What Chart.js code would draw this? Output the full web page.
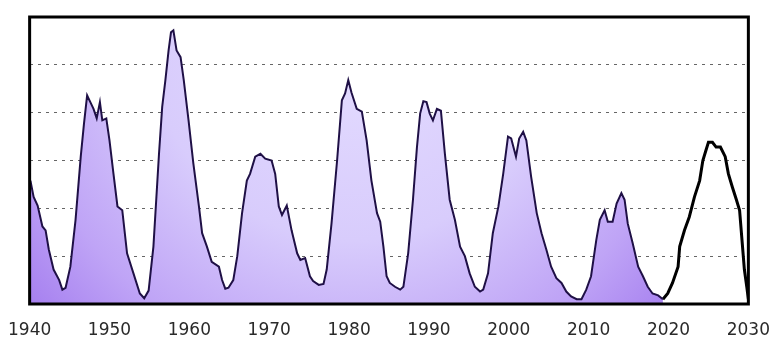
<!DOCTYPE html>
<html lang="en">
<head>
  <meta charset="UTF-8">
  <title>Sunspot Cycles 1940-2030</title>
  <script src="https://cdn.jsdelivr.net/npm/chart.js"></script>
  <style>
    html, body {
      margin: 0;
      padding: 0;
      background: #fff;
    }
    #wrap {
      width: 778px;
      height: 343px;
    }
  </style>
</head>
<body>
  <div id="wrap"><canvas id="sunChart"></canvas></div>

  <script>
    // observed smoothed sunspot number
    const observedYears = [
      1940.1, 1940.5, 1941.0, 1941.6, 1942.0, 1942.4, 1943.0, 1943.7, 1944.1, 1944.5,
      1945.1, 1945.75, 1946.4, 1946.8, 1947.2, 1947.6, 1948.0, 1948.4, 1948.8, 1949.1,
      1949.6, 1950.0, 1950.5, 1951.0, 1951.6, 1952.2, 1953.0, 1953.8, 1954.35, 1954.9,
      1955.5, 1956.2, 1956.6, 1957.0, 1957.4, 1957.7, 1958.0, 1958.4, 1958.9, 1959.3,
      1959.9, 1960.5, 1961.2, 1961.6, 1962.2, 1962.8, 1963.7, 1964.1, 1964.5, 1964.9,
      1965.5, 1966.0, 1966.6, 1967.2, 1967.6, 1968.25, 1968.9, 1969.5, 1970.3, 1970.75,
      1971.2, 1971.6, 1972.2, 1972.8, 1973.5, 1973.9, 1974.5, 1975.1, 1975.5, 1976.2,
      1976.8, 1977.2, 1977.8, 1978.5, 1979.1, 1979.5, 1979.9, 1980.3, 1980.96, 1981.6,
      1982.2, 1982.8, 1983.5, 1983.9, 1984.3, 1984.7, 1985.1, 1985.75, 1986.4, 1986.8,
      1987.4, 1988.0, 1988.5, 1988.9, 1989.3, 1989.7, 1990.1, 1990.5, 1991.0, 1991.5,
      1992.0, 1992.6, 1993.25, 1993.9, 1994.5, 1995.1, 1995.75, 1996.4, 1996.8, 1997.4,
      1998.0, 1998.7, 1999.3, 1999.9, 2000.3, 2000.9, 2001.3, 2001.8, 2002.2, 2002.8,
      2003.5, 2004.1, 2004.7, 2005.3, 2005.96, 2006.6, 2007.2, 2007.8, 2008.5, 2009.1,
      2009.7, 2010.3, 2010.96, 2011.4, 2012.0, 2012.4, 2013.0, 2013.5, 2014.1, 2014.5,
      2014.9, 2015.5, 2016.2, 2016.8, 2017.4, 2018.0, 2018.7, 2019.3
    ];
    const observedValues = [
      129, 112, 103, 81, 77, 57, 36, 25, 15, 17,
      39, 88, 154, 188, 218, 211, 204, 194, 211, 192,
      194, 171, 136, 102, 98, 53, 32, 11, 6, 14,
      60, 157, 206, 234, 265, 284, 286, 265, 258, 234,
      192, 147, 102, 74, 60, 44, 39, 25, 16, 17,
      25, 50, 95, 129, 136, 154, 157, 152, 150, 136,
      102, 93, 103, 77, 53, 46, 48, 29, 24, 20,
      21, 36, 84, 150, 213, 220, 234, 221, 204, 201,
      171, 129, 95, 86, 60, 29, 22, 18, 15, 18,
      53, 109, 164, 199, 212, 211, 199, 192, 204, 202,
      157, 109, 88, 60, 50, 32, 18, 13, 15, 32,
      74, 102, 136, 175, 173, 154, 173, 180, 171, 133,
      95, 74, 57, 39, 27, 22, 13, 8, 5, 5,
      15, 29, 67, 88, 98, 86, 86, 105, 116, 109,
      84, 64, 39, 29, 18, 11, 9, 5
    ];

    // predicted cycle (black line)
    const predictedYears = [
      2019.3, 2019.9, 2020.5, 2021.2, 2021.4, 2022.0, 2022.6, 2023.25, 2023.9, 2024.3,
      2024.7, 2025.0, 2025.5, 2025.96, 2026.5, 2027.1, 2027.5, 2028.0, 2028.5, 2028.9,
      2029.2, 2029.5, 2029.8, 2030.0
    ];
    const predictedValues = [
      5, 11, 22, 39, 60, 77, 91, 112, 129, 150,
      161, 169, 169, 164, 164, 154, 136, 122, 109, 98,
      67, 36, 18, 5
    ];

    const yearTicks = [1940, 1950, 1960, 1970, 1980, 1990, 2000, 2010, 2020, 2030];
    const valueTicks = [0, 50, 100, 150, 200, 250, 300];

    const toPoints = (xs, ys) => xs.map((x, i) => ({ x: x, y: ys[i] }));

    // purple fill: lighter in the middle, deeper towards the bottom corners
    function purpleFill(context) {
      const area = context.chart.chartArea;
      if (!area) return '#c4aaf7';
      const c = context.chart.ctx;
      const cx = area.left + (area.right - area.left) * 0.45;
      const g = c.createRadialGradient(cx, area.top + 20, 10, cx, area.top + 20, 440);
      g.addColorStop(0, '#e4dcff');
      g.addColorStop(0.45, '#d8ccfc');
      g.addColorStop(0.75, '#bfa4f6');
      g.addColorStop(1, '#a077ee');
      return g;
    }

    // thick black frame round the plot
    const frame = {
      id: 'frame',
      afterDraw(chart) {
        const a = chart.chartArea;
        const c = chart.ctx;
        c.save();
        c.strokeStyle = '#000';
        c.lineWidth = 3;
        c.strokeRect(a.left, a.top, a.right - a.left, a.bottom - a.top);
        c.restore();
      }
    };

    new Chart(document.getElementById('sunChart'), {
      type: 'line',
      data: {
        datasets: [
          {
            label: 'Observed',
            data: toPoints(observedYears, observedValues),
            borderColor: '#1f1046',
            borderWidth: 2,
            backgroundColor: purpleFill,
            fill: 'origin',
            pointRadius: 0,
            tension: 0
          },
          {
            label: 'Predicted',
            data: toPoints(predictedYears, predictedValues),
            borderColor: '#000',
            borderWidth: 3,
            fill: false,
            pointRadius: 0,
            tension: 0
          }
        ]
      },
      options: {
        responsive: true,
        maintainAspectRatio: false,
        animation: false,
        layout: {
          padding: { left: 28, right: 28, top: 17, bottom: 0 }
        },
        plugins: {
          legend: { display: false },
          tooltip: { enabled: false }
        },
        scales: {
          x: {
            type: 'linear',
            min: yearTicks[0],
            max: yearTicks[yearTicks.length - 1],
            afterBuildTicks: axis => {
              axis.ticks = yearTicks.map(v => ({ value: v }));
            },
            afterFit: axis => { axis.height = 39; },
            grid: { display: false },
            border: { display: false },
            ticks: {
              padding: 8,
              maxRotation: 0,
              autoSkip: false,
              color: '#2a2a2a',
              font: { family: 'DejaVu Sans', size: 17 },
              callback: v => String(v)
            }
          },
          y: {
            min: valueTicks[0],
            max: valueTicks[valueTicks.length - 1],
            afterBuildTicks: axis => {
              axis.ticks = valueTicks.map(v => ({ value: v }));
            },
            afterFit: axis => { axis.width = 0; },
            grid: {
              color: '#666',
              lineWidth: 1,
              drawTicks: false
            },
            border: { display: false, dash: [3, 5] },
            ticks: { display: false }
          }
        }
      },
      plugins: [frame]
    });
  </script>
</body>
</html>
